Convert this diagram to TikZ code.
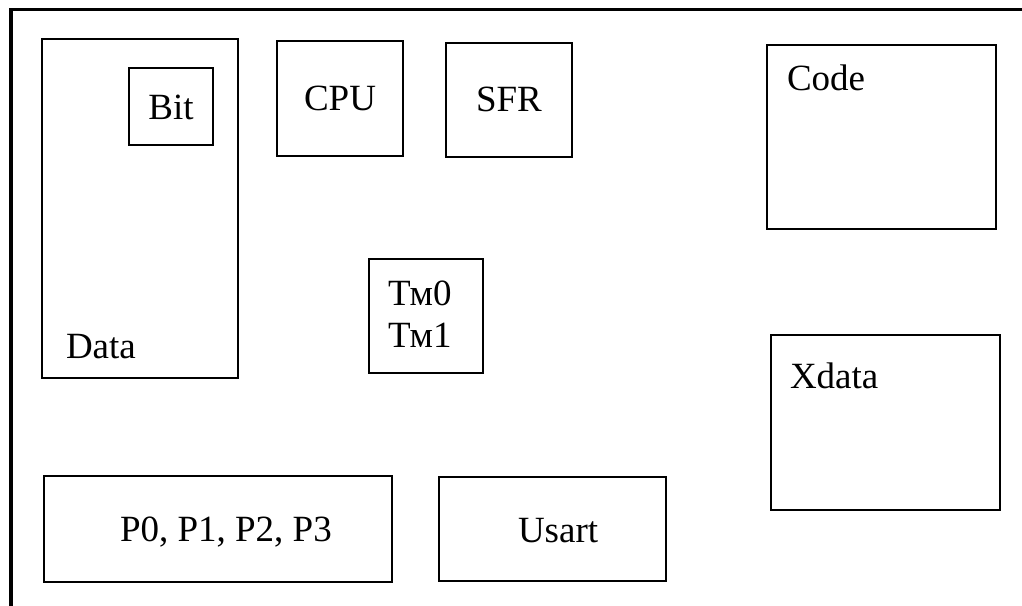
\documentclass[tikz,border=0pt]{standalone}
\usepackage{fontspec}
\setmainfont{Liberation Serif}
\begin{document}
\begin{tikzpicture}[x=1pt,y=-1pt,
  box/.style={draw,line width=1.5pt,inner sep=0pt,outer sep=0pt},
  lbl/.style={inner sep=0pt,outer sep=0pt,anchor=base west,font=\fontsize{37}{42}\selectfont},
  clbl/.style={inner sep=0pt,outer sep=0pt,anchor=base,font=\fontsize{37}{42}\selectfont},
  frame/.style={line width=3.5pt}]
\useasboundingbox (0,0) rectangle (1022,605);
% outer frame
\coordinate (fbl) at (11,607);
\coordinate (ftl) at (11,9.5);
\coordinate (ftr) at (1024,9.5);
\draw[frame] (fbl) -- (ftl) -- (ftr);
% boxes (centre, size)
\node[box,minimum width=196pt,minimum height=339pt] (data) at (140,208.5) {};
\node[box,minimum width=84pt,minimum height=77pt] (bit) at (171,106.5) {};
\node[box,minimum width=126pt,minimum height=115pt] (cpu) at (340,98.5) {};
\node[box,minimum width=126pt,minimum height=114pt] (sfr) at (509,100) {};
\node[box,minimum width=229pt,minimum height=184pt] (code) at (881.5,137) {};
\node[box,minimum width=114pt,minimum height=114pt] (tm) at (426,316) {};
\node[box,minimum width=229pt,minimum height=175pt] (xdata) at (885.5,422.5) {};
\node[box,minimum width=348pt,minimum height=106pt] (ports) at (218,529) {};
\node[box,minimum width=227pt,minimum height=104pt] (usart) at (552.5,529) {};
% labels
\node[clbl] (tbit) at (171,119) {Bit};
\node[clbl] (tcpu) at (340,110) {CPU};
\node[clbl] (tsfr) at (509,111) {SFR};
\node[lbl] (tcode) at (787,90) {Code};
\node[lbl] (tdata) at (66,358) {Data};
\node[lbl] (ttm0) at (388,305) {Тм0};
\node[lbl] (ttm1) at (388,347) {Тм1};
\node[lbl] (txdata) at (790,388) {Xdata};
\node[lbl] (tports) at (120,541) {P0, P1, P2, P3};
\node[lbl] (tusart) at (518,542) {Usart};
\end{tikzpicture}
\end{document}
